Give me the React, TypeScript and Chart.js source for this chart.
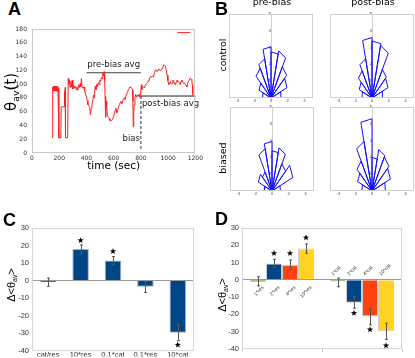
import React, { useEffect, useRef } from 'react';
import { Chart, registerables } from 'chart.js';
Chart.register(...registerables);

const SANS = '"DejaVu Sans", sans-serif';
const LIB = '"Liberation Sans", Arial, sans-serif';

// ---------- Panel A data ----------
const timeSec = [
  150, 152, 156, 158, 161, 164, 167, 170, 173, 176,
  179, 182, 185, 188, 191, 196, 198, 212, 214, 236,
  238, 240, 244, 246, 262, 266, 270, 275, 280, 285,
  290, 296, 300, 306, 312, 318, 324, 330, 336, 342,
  348, 354, 358, 363, 368, 375, 382, 387, 393, 399,
  405, 411, 417, 423, 427, 430, 434, 440, 447, 452,
  456, 460, 465, 470, 476, 481, 488, 493, 498, 504,
  510, 515, 520, 525, 530, 534, 537, 541, 545, 549,
  553, 560, 566, 572, 578, 585, 592, 598, 604, 610,
  617, 623, 629, 635, 641, 647, 653, 659, 665, 671,
  677, 683, 690, 696, 702, 708, 714, 720, 726, 732,
  738, 741, 744, 747, 750, 756, 762, 768, 774, 780,
  786, 792, 798, 803, 807, 811, 817, 823, 829, 835,
  841, 847, 853, 859, 865, 871, 877, 883, 889, 895,
  901, 907, 913, 920, 926, 932, 938, 944, 950, 956,
  962, 968, 974, 980, 986, 992, 998, 1005, 1011, 1017,
  1023, 1029, 1035, 1041, 1047, 1053, 1059, 1065, 1071, 1077,
  1083, 1089, 1095, 1101, 1107, 1113, 1119, 1125, 1132, 1138,
  1144, 1150, 1156, 1162, 1168, 1174, 1178, 1181, 1186, 1191,
  1196, 1200,
];
const thetaAv = [
  22, 96, 90, 97, 90, 97, 90, 97, 90, 97,
  90, 97, 90, 97, 91, 95, 22, 22, 67, 67,
  89, 70, 95, 22, 22, 108, 100, 106, 95, 104,
  96, 106, 93, 98, 94, 97, 92, 96, 91, 99,
  95, 101, 96, 108, 96, 94, 96, 90, 86, 82,
  76, 70, 69, 66, 60, 56, 65, 70, 77, 84,
  80, 88, 97, 92, 100, 96, 102, 99, 106, 104,
  110, 108, 116, 112, 118, 105, 82, 52, 75, 70,
  55, 52, 50, 47, 48, 47, 49, 52, 56, 62,
  65, 58, 61, 67, 70, 73, 75, 71, 74, 79,
  80, 78, 83, 86, 89, 92, 94, 96, 95, 94,
  92, 75, 38, 55, 70, 80, 85, 81, 84, 82,
  85, 81, 84, 99, 92, 94, 96, 95, 98, 99,
  101, 102, 104, 106, 109, 111, 110, 112, 111, 113,
  117, 121, 119, 118, 121, 122, 120, 119, 121, 123,
  125, 128, 127, 126, 120, 113, 105, 99, 102, 104,
  100, 101, 106, 104, 100, 99, 103, 106, 103, 104,
  101, 99, 104, 106, 103, 101, 102, 100, 98, 96,
  102, 104, 106, 109, 107, 106, 98, 85, 82, 84,
  79, 77,
];
const preBiasAvg = 116.5;
const postBiasAvg = 82.7;
const preBiasSpan = [400, 800];
const postBiasSpan = [800, 1200];
const biasTime = 800;
const biasLineRange = [82.7, 6];
const biasLabelY = 17.5;
const xTicksA = [0, 1200, 200];
const yTicksA = [0, 180, 20];

// ---------- Panel B data (rose radii per 18° bin, 0°..180°) ----------
const roseEdgesDeg = [0, 18, 36, 54, 72, 90, 108, 126, 144, 162, 180];
const roseControlPre = [1.2, 2.0, 2.3, 2.95, 2.75, 3.05, 2.45, 2.2, 1.5, 1.0];
const roseControlPost = [1.3, 2.0, 2.1, 3.3, 3.4, 3.6, 2.45, 2.0, 1.6, 1.2];
const roseBiasedPre = [1.0, 2.6, 2.0, 2.7, 2.4, 2.95, 2.65, 1.4, 1.7, 0.9];
const roseBiasedPost = [1.6, 2.3, 2.5, 2.6, 2.0, 4.3, 3.1, 2.2, 1.8, 1.2];

// ---------- Panel C data ----------
const catsC = ['cat/res', '10*res', '0.1*cat', '0.1*res', '10*cat'];
const valsC = [-1, 18, 11.5, -3.5, -29.8];
const errLowC = [-3.3, 15.5, 8.9, -6.8, -34.4];
const errHighC = [1.4, 20.3, 13.7, -0.5, -25];
const starsC = [null, 22.9, 16.7, null, -36.8];

// ---------- Panel D data ----------
const groupsD = ['res', 'cat'];
const seriesD = ['1*', '2*', '4*', '10*'];
const colorsD = ['#579d1c', '#004586', '#ff420e', '#ffd320'];
const valsD = [[-1.2, -1.0], [9.5, -13.3], [8.6, -21], [18.2, -29.8]];
const errLowD = [[-3.5, -4], [7.3, -16.4], [6.1, -26.1], [15.4, -34.4]];
const errHighD = [[1.8, 1], [11.9, -9.7], [11.5, -16.7], [20.8, -25.1]];
const starsD = [[null, null], [15.4, -19.2], [15.4, -28.8], [24.4, -38]];
const resLabelsD = ['1*res', '2*res', '4*res', '10*res'];
const catLabelsD = ['1*cat', '2*cat', '4*cat', '10*cat'];

// ---------- helpers ----------
function framePlugin(color: string) {
  return {
    id: 'frame',
    afterDraw(chart: any) {
      const { ctx, chartArea: a } = chart;
      ctx.save();
      ctx.strokeStyle = color;
      ctx.lineWidth = 1;
      ctx.strokeRect(Math.round(a.left) + 0.5, Math.round(a.top) + 0.5, Math.round(a.right - a.left) - 1, Math.round(a.bottom - a.top) - 1);
      ctx.restore();
    },
  };
}

function drawStar(ctx: CanvasRenderingContext2D, cx: number, cy: number, R: number, r: number) {
  ctx.beginPath();
  for (let k = 0; k < 10; k++) {
    const rad = k % 2 === 0 ? R : r;
    const a = -Math.PI / 2 + (k * Math.PI) / 5;
    const px = cx + rad * Math.cos(a);
    const py = cy + rad * Math.sin(a);
    if (k === 0) ctx.moveTo(px, py); else ctx.lineTo(px, py);
  }
  ctx.closePath();
  ctx.fillStyle = '#000';
  ctx.fill();
}

function errStarPlugin(low: any[][], high: any[][], stars: any[][]) {
  return {
    id: 'errStar',
    afterDatasetsDraw(chart: any) {
      const { ctx } = chart;
      const ys = chart.scales.y;
      ctx.save();
      chart.data.datasets.forEach((_ds: any, di: number) => {
        const meta = chart.getDatasetMeta(di);
        meta.data.forEach((bar: any, i: number) => {
          const lo = low[di][i];
          const hi = high[di][i];
          if (lo != null && hi != null) {
            const x = Math.round(bar.x) + 0.5;
            const y1 = ys.getPixelForValue(lo);
            const y2 = ys.getPixelForValue(hi);
            ctx.strokeStyle = '#555';
            ctx.lineWidth = 1;
            ctx.beginPath();
            ctx.moveTo(x, y1); ctx.lineTo(x, y2);
            ctx.moveTo(x - 1.5, y1); ctx.lineTo(x + 1.5, y1);
            ctx.moveTo(x - 1.5, y2); ctx.lineTo(x + 1.5, y2);
            ctx.stroke();
          }
          const s = stars[di][i];
          if (s != null) drawStar(ctx, bar.x, ys.getPixelForValue(s), 3.3, 1.35);
        });
      });
      ctx.restore();
    },
  };
}

function rosePoints(radii: number[]) {
  const pts: { x: number; y: number }[] = [];
  radii.forEach((r, i) => {
    const a1 = (roseEdgesDeg[i] * Math.PI) / 180;
    const a2 = (roseEdgesDeg[i + 1] * Math.PI) / 180;
    pts.push({ x: 0, y: 0 });
    pts.push({ x: r * Math.cos(a1), y: r * Math.sin(a1) });
    pts.push({ x: r * Math.cos(a2), y: r * Math.sin(a2) });
    pts.push({ x: 0, y: 0 });
  });
  return pts;
}

const baseOpts = {
  animation: false,
  responsive: true,
  maintainAspectRatio: false,
  devicePixelRatio: 1,
  events: [],
};

const noGrid = { display: false, drawTicks: false };

// ---------- configs ----------
const annotA = {
  id: 'annotA',
  afterDatasetsDraw(chart: any) {
    const { ctx, chartArea } = chart;
    const xs = chart.scales.x;
    const ys = chart.scales.y;
    ctx.save();
    ctx.font = `8.5px ${SANS}`;
    ctx.fillStyle = '#222';
    ctx.textBaseline = 'alphabetic';
    ctx.textAlign = 'center';
    ctx.fillText('pre-bias avg', xs.getPixelForValue((preBiasSpan[0] + preBiasSpan[1]) / 2), ys.getPixelForValue(preBiasAvg) - 6);
    ctx.textAlign = 'left';
    ctx.fillText('post-bias avg', xs.getPixelForValue(postBiasSpan[0]) + 1, ys.getPixelForValue(postBiasAvg) + 9.5);
    ctx.textAlign = 'right';
    ctx.fillText('bias', xs.getPixelForValue(biasTime) - 1, ys.getPixelForValue(biasLabelY));
    ctx.strokeStyle = '#ff3030';
    ctx.lineWidth = 1;
    ctx.beginPath();
    ctx.moveTo(chartArea.right - 18, chartArea.top + 3.5);
    ctx.lineTo(chartArea.right - 5, chartArea.top + 3.5);
    ctx.stroke();
    ctx.restore();
  },
};

const configA = () => ({
  type: 'scatter',
  data: {
    datasets: [
      { data: timeSec.map((t, i) => ({ x: t, y: thetaAv[i] })), showLine: true, borderColor: '#ff2020', borderWidth: 1, pointRadius: 0 },
      { data: preBiasSpan.map((t) => ({ x: t, y: preBiasAvg })), showLine: true, borderColor: '#444', borderWidth: 1, pointRadius: 0 },
      { data: postBiasSpan.map((t) => ({ x: t, y: postBiasAvg })), showLine: true, borderColor: '#222', borderWidth: 1, pointRadius: 0 },
      { data: biasLineRange.map((v) => ({ x: biasTime, y: v })), showLine: true, borderColor: '#333', borderWidth: 1, borderDash: [3, 2], pointRadius: 0 },
    ],
  },
  options: {
    ...baseOpts,
    layout: { padding: { top: 9, right: 8, left: 0, bottom: 0 } },
    plugins: { legend: { display: false }, tooltip: { enabled: false } },
    scales: {
      x: {
        type: 'linear', min: xTicksA[0], max: xTicksA[1],
        ticks: { stepSize: xTicksA[2], callback: (v: number) => String(v), font: { family: SANS, size: 6 }, color: '#333', padding: 2, maxRotation: 0 },
        grid: noGrid, border: { display: false },
        title: { display: true, text: 'time (sec)', font: { family: SANS, size: 10.5 }, color: '#000', padding: { top: 0, bottom: 2 } },
        afterFit: (s: any) => { s.height = 22; },
      },
      y: {
        type: 'linear', min: yTicksA[0], max: yTicksA[1],
        ticks: { stepSize: yTicksA[2], callback: (v: number) => String(v), font: { family: SANS, size: 6 }, color: '#333', padding: 5 },
        grid: noGrid, border: { display: false },
        afterFit: (s: any) => { s.width = 32; },
      },
    },
  },
  plugins: [framePlugin('#c8c8c8'), annotA],
});

const configRose = (radii: number[]) => () => ({
  type: 'scatter',
  data: { datasets: [{ data: rosePoints(radii), showLine: true, borderColor: '#1010ff', borderWidth: 1, pointRadius: 0 }] },
  options: {
    ...baseOpts,
    layout: { padding: { top: 4, left: 4, right: 4, bottom: 0 } },
    plugins: { legend: { display: false }, tooltip: { enabled: false } },
    scales: {
      x: {
        type: 'linear', min: -5, max: 5,
        ticks: { stepSize: 1, autoSkip: false, maxRotation: 0, callback: (v: number) => (v % 2 === 0 ? String(v) : ''), font: { family: SANS, size: 4 }, color: '#555', padding: 1 },
        grid: noGrid, border: { display: false },
        afterFit: (s: any) => { s.height = 8; },
      },
      y: {
        type: 'linear', min: 0, max: 5, position: { x: 0 },
        ticks: { stepSize: 1, callback: (v: number) => (v === 0 ? '' : String(v)), font: { family: SANS, size: 4 }, color: '#555', padding: 0 },
        grid: noGrid, border: { color: '#d0d0d0' },
      },
    },
  },
  plugins: [framePlugin('#d0d0d0')],
});

const yAxisBar = (width: number) => ({
  type: 'linear', min: -40, max: 30,
  ticks: { stepSize: 10, font: { family: LIB, size: 7.5 }, color: '#333', padding: 3 },
  grid: { color: (c: any) => (c.tick && c.tick.value === 0 ? '#9a9a9a' : 'rgba(0,0,0,0)'), drawTicks: false },
  border: { display: false },
  afterFit: (s: any) => { s.width = width; },
});

const configC = () => ({
  type: 'bar',
  data: {
    labels: catsC,
    datasets: [{ data: valsC, backgroundColor: '#004586', borderColor: '#9fb0c4', borderWidth: 1, barPercentage: 0.51, categoryPercentage: 1 }],
  },
  options: {
    ...baseOpts,
    layout: { padding: { top: 13, right: 11, left: 0, bottom: 0 } },
    plugins: { legend: { display: false }, tooltip: { enabled: false } },
    scales: {
      x: {
        ticks: { font: { family: LIB, size: 7.5 }, color: '#333', padding: 0, maxRotation: 0, autoSkip: false },
        grid: noGrid, border: { display: false },
        afterFit: (s: any) => { s.height = 6; },
      },
      y: yAxisBar(32),
    },
  },
  plugins: [framePlugin('#d6d6d6'), errStarPlugin([errLowC], [errHighC], [starsC])],
});

const barLabelsD = {
  id: 'barLabelsD',
  afterDatasetsDraw(chart: any) {
    const { ctx } = chart;
    const zero = chart.scales.y.getPixelForValue(0);
    ctx.save();
    ctx.font = `5px ${LIB}`;
    ctx.fillStyle = '#333';
    ctx.textBaseline = 'middle';
    chart.data.datasets.forEach((_ds: any, di: number) => {
      chart.getDatasetMeta(di).data.forEach((bar: any, i: number) => {
        ctx.save();
        if (i === 0) {
          ctx.translate(bar.x + 5, zero + 7);
          ctx.rotate(-Math.PI / 4);
          ctx.textAlign = 'right';
          ctx.fillText(resLabelsD[di], 0, 0);
        } else {
          ctx.translate(bar.x - 6, zero - 5);
          ctx.rotate(-Math.PI / 4);
          ctx.textAlign = 'left';
          ctx.fillText(catLabelsD[di], 0, 0);
        }
        ctx.restore();
      });
    });
    ctx.restore();
  },
};

const configD = () => ({
  type: 'bar',
  data: {
    labels: groupsD,
    datasets: seriesD.map((name, k) => ({
      label: name, data: valsD[k], backgroundColor: colorsD[k], borderColor: 'rgba(200,200,200,0.9)', borderWidth: 1,
      barPercentage: 1, categoryPercentage: 0.8,
    })),
  },
  options: {
    ...baseOpts,
    layout: { padding: { top: 13, right: 13, left: 0, bottom: 0 } },
    plugins: { legend: { display: false }, tooltip: { enabled: false } },
    scales: {
      x: {
        ticks: { display: false },
        grid: { display: true, drawOnChartArea: false, drawTicks: true, tickLength: 3, color: '#c8c8c8' },
        border: { display: false },
        afterFit: (s: any) => { s.height = 9; },
      },
      y: yAxisBar(37),
    },
  },
  plugins: [framePlugin('#d6d6d6'), errStarPlugin(errLowD, errHighD, starsD), barLabelsD],
});

// ---------- components ----------
function ChartBox({ left, top, width, height, config }: any) {
  const ref = useRef<HTMLCanvasElement>(null);
  useEffect(() => {
    const chart = new Chart(ref.current as HTMLCanvasElement, config() as any);
    return () => chart.destroy();
  }, []);
  return (
    <div style={{ position: 'absolute', left, top, width, height }}>
      <canvas ref={ref} />
    </div>
  );
}

function Label({ x, y, size, family = LIB, weight = 'normal', anchor = 'left', children }: any) {
  const tx = anchor === 'center' ? 'translateX(-50%)' : anchor === 'right' ? 'translateX(-100%)' : 'none';
  return (
    <div style={{ position: 'absolute', left: x, top: y - 0.846 * size, fontSize: size, lineHeight: `${size}px`, fontFamily: family, fontWeight: weight, whiteSpace: 'nowrap', color: '#000', transform: tx }}>
      {children}
    </div>
  );
}

function VLabel({ cx, cy, size, family = LIB, children }: any) {
  return (
    <div style={{ position: 'absolute', left: cx, top: cy, fontSize: size, lineHeight: `${size}px`, fontFamily: family, whiteSpace: 'nowrap', color: '#000', transform: 'translate(-50%,-50%) rotate(-90deg)' }}>
      {children}
    </div>
  );
}

const subStyle: React.CSSProperties = { fontSize: '0.62em', position: 'relative', top: '0.3em', lineHeight: 0 };

export default function App() {
  return (
    <div style={{ position: 'fixed', left: 0, top: 0, width: 415, height: 358, background: '#fff', overflow: 'hidden' }}>
      <ChartBox left={0} top={20} width={205} height={155} config={configA} />
      <ChartBox left={225} top={10} width={92} height={96} config={configRose(roseControlPre)} />
      <ChartBox left={326} top={10} width={92} height={96} config={configRose(roseControlPost)} />
      <ChartBox left={226} top={103} width={92} height={96} config={configRose(roseBiasedPre)} />
      <ChartBox left={326} top={103} width={92} height={96} config={configRose(roseBiasedPost)} />
      <ChartBox left={0} top={215} width={205} height={143} config={configC} />
      <ChartBox left={205} top={215} width={210} height={143} config={configD} />

      <Label x={8} y={15} size={18} weight="bold">A</Label>
      <Label x={215} y={15} size={18} weight="bold">B</Label>
      <Label x={3} y={226} size={18} weight="bold">C</Label>
      <Label x={215} y={225} size={18} weight="bold">D</Label>

      <Label x={272} y={5.5} size={9.5} family={SANS} anchor="center">pre-bias</Label>
      <Label x={373} y={5.5} size={9.5} family={SANS} anchor="center">post-bias</Label>
      <VLabel cx={223} cy={55} size={9.5} family={SANS}>control</VLabel>
      <VLabel cx={223} cy={158} size={9.5} family={SANS}>biased</VLabel>

      <VLabel cx={11} cy={92} size={15} family={SANS}>θ<span style={subStyle}>av</span>(t)</VLabel>
      <VLabel cx={11} cy={285} size={11} family={LIB}>{'Δ<θ'}<span style={subStyle}>av</span>{'>'}</VLabel>
      <VLabel cx={222} cy={295} size={11} family={LIB}>{'Δ<θ'}<span style={subStyle}>av</span>{'>'}</VLabel>
    </div>
  );
}
